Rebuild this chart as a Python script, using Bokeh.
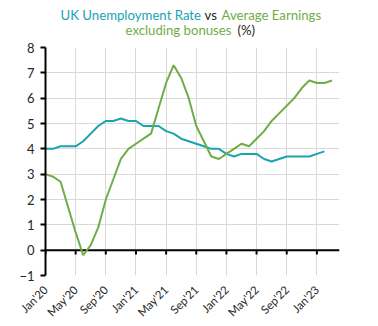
import math
from bokeh.plotting import figure
from bokeh.layouts import column
from bokeh.models import FixedTicker, Span, Range1d, ColumnDataSource
from bokeh.core.properties import value
from bokeh.embed import file_html
from bokeh.resources import INLINE

# ---- data (monthly, index 0 = Jan'20) ----
tick_labels = ["Jan'20", "May'20", "Sep'20", "Jan'21", "May'21", "Sep'21",
               "Jan'22", "May'22", "Sep'22", "Jan'23"]
unemployment = [4.0, 4.0, 4.1, 4.1, 4.1, 4.3, 4.6, 4.9, 5.1, 5.1, 5.2, 5.1,
                5.1, 4.9, 4.9, 4.9, 4.7, 4.6, 4.4, 4.3, 4.2, 4.1, 4.0, 4.0,
                3.8, 3.7, 3.8, 3.8, 3.8, 3.6, 3.5, 3.6, 3.7, 3.7, 3.7, 3.7,
                3.8, 3.9]
earnings = [3.0, 2.9, 2.7, 1.7, 0.7, -0.2, 0.2, 0.9, 2.0, 2.8, 3.6, 4.0,
            4.2, 4.4, 4.6, 5.6, 6.6, 7.3, 6.8, 6.0, 4.9, 4.3, 3.7, 3.6,
            3.8, 4.0, 4.2, 4.1, 4.4, 4.7, 5.1, 5.4, 5.7, 6.0, 6.4, 6.7,
            6.6, 6.6, 6.7]
y_ticks = [-1, 0, 1, 2, 3, 4, 5, 6, 7, 8]
title_texts = ["UK Unemployment Rate", "vs", "Average Earnings",
               "excluding bonuses", "(%)"]

months_u = list(range(len(unemployment)))
months_e = list(range(len(earnings)))
tick_pos = [4 * i for i in range(len(tick_labels))]

TEAL = "#1AA3B1"
GREEN = "#70AD47"
DARK = "#262626"
GRID = "#D9D9D9"
FONT = "Lato"

LEFT, RIGHT = 45, 39          # plot-frame borders (px)
W, H = 378, 326

# ---------- title strip (pixel-mapped coordinates, y downward) ----------
TH = 40
# frames in a column are aligned, so map the strip frame to the same pixels
t = figure(width=W, height=TH, output_backend="svg", toolbar_location=None,
           x_range=Range1d(LEFT, W - RIGHT), y_range=Range1d(TH, 0),
           x_axis_location=None, y_axis_location=None,
           min_border=0, min_border_left=LEFT, min_border_right=RIGHT)
t.grid.visible = False
t.outline_line_color = None
title_src = ColumnDataSource(dict(
    x=[60, 204, 221, 125, 237],
    y=[14.0, 14.0, 14.0, 29.5, 29.5],
    text=title_texts,
    color=[TEAL, DARK, GREEN, GREEN, DARK],
))
t.text(x="x", y="y", text="text", text_color="color", source=title_src,
       text_font=value(FONT), text_font_size="13.2px",
       text_align="left", text_baseline="alphabetic")

# ---------- main chart ----------
p = figure(width=W, height=H - TH, output_backend="svg",
           toolbar_location=None,
           x_range=Range1d(0, 39), y_range=Range1d(-1, 8),
           min_border_left=LEFT, min_border_right=RIGHT,
           min_border_top=47 - TH, min_border_bottom=51)
p.outline_line_color = None
p.background_fill_color = "white"
p.border_fill_color = "white"

# grids
p.xgrid.ticker = FixedTicker(ticks=tick_pos)
p.ygrid.ticker = FixedTicker(ticks=y_ticks)
p.grid.grid_line_color = GRID
p.grid.grid_line_width = 1

# y axis
p.yaxis.ticker = FixedTicker(ticks=y_ticks)
p.yaxis.axis_line_color = "black"
p.yaxis.axis_line_width = 2
p.yaxis.major_tick_line_color = "black"
p.yaxis.major_tick_line_width = 2
p.yaxis.major_tick_out = 5
p.yaxis.major_tick_in = 0
p.yaxis.minor_tick_line_color = None
p.yaxis.major_label_text_font = FONT
p.yaxis.major_label_text_font_size = "13px"
p.yaxis.major_label_text_color = DARK
p.yaxis.major_label_standoff = 6

# x axis (labels only at the bottom)
p.xaxis.ticker = FixedTicker(ticks=tick_pos)
p.xaxis.major_label_overrides = {t_: l for t_, l in zip(tick_pos, tick_labels)}
p.xaxis.major_label_orientation = math.pi / 4
p.xaxis.axis_line_color = None
p.xaxis.major_tick_line_color = None
p.xaxis.minor_tick_line_color = None
p.xaxis.major_label_text_font = FONT
p.xaxis.major_label_text_font_size = "11.5px"
p.xaxis.major_label_text_color = DARK
p.xaxis.major_label_standoff = 6

# zero line with downward ticks
p.add_layout(Span(location=0, dimension="width", line_color="black",
                  line_width=2, level="underlay"))
p.segment(x0=tick_pos, y0=[0] * len(tick_pos), x1=tick_pos,
          y1=[-0.17] * len(tick_pos), line_color="black", line_width=2)

# series
p.line(months_u, unemployment, line_color=TEAL, line_width=2)
p.line(months_e, earnings, line_color=GREEN, line_width=2)

layout = column(t, p, spacing=0)
open("out.html", "w").write(file_html(layout, INLINE))
